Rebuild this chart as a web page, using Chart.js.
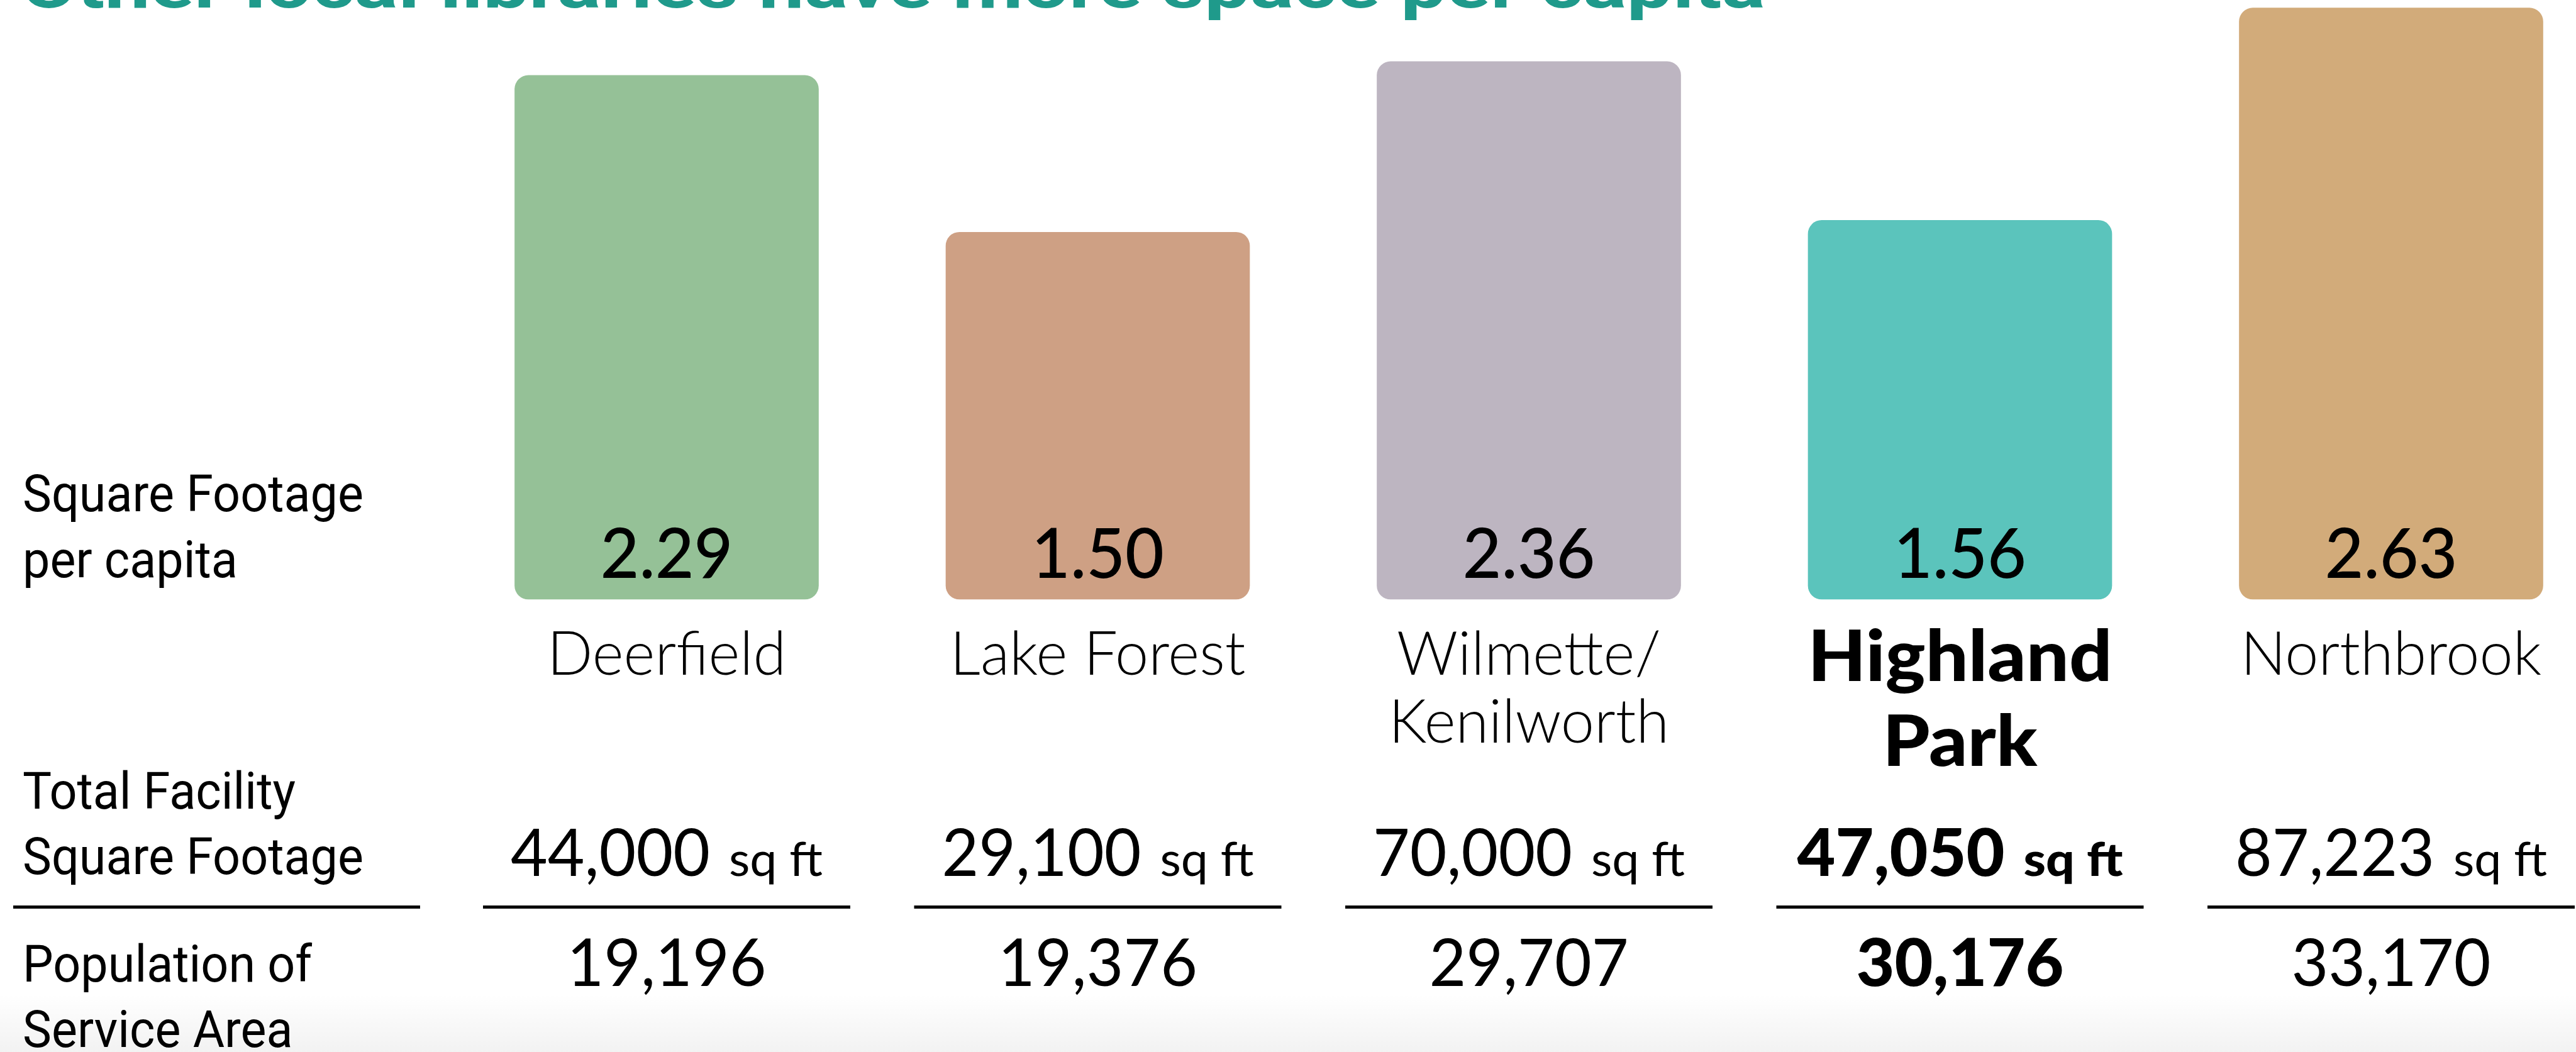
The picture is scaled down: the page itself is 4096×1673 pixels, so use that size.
<!DOCTYPE html>
<html>
<head>
<meta charset="utf-8">
<script src="https://cdn.jsdelivr.net/npm/chart.js@4.4.1/dist/chart.umd.min.js"></script>
<style>
  html, body { margin: 0; padding: 0; background: #fff; }
  #wrap { width: 4096px; height: 1673px; position: relative; }
</style>
</head>
<body>
<div id="wrap"><canvas id="librariesChart"></canvas></div>
<script>
// Data
const chartTitle = 'Other local libraries have more space per capita';
const libraryNames = [['Deerfield'], ['Lake Forest'], ['Wilmette/', 'Kenilworth'], ['Highland', 'Park'], ['Northbrook']];
const sqftPerCapita = [2.29, 1.50, 2.36, 1.56, 2.63];
const facilitySqft = [44000, 29100, 70000, 47050, 87223];
const servicePopulation = [19196, 19376, 29707, 30176, 33170];
const rowTitles = [['Square Footage', 'per capita'], ['Total Facility', 'Square Footage'], ['Population of', 'Service Area']];
const highlightIndex = 3;  // Highland Park

// value axis range (bars start at the bottom of the range, not at 0)
const yMin = -0.35;
const yMax = 2.67;

const barColors = ['#95c197', '#cea084', '#bdb5c1', '#5bc4bc', '#d2ab7a'];

const fonts = {
    title:    'bold 100px Roboto',
    row:      '82px Roboto',
    name:     '300 96px Lato',
    nameBold: '900 112px Lato',
    value:    '500 110px Lato',
    num:      '400 105px Lato',
    numBold:  '900 105px Lato',
    unit:     '400 75px Lato',
    unitBold: '900 75px Lato'
};
// sample text + width it should take, to squeeze fonts to the look of the original
const fontFit = {
    title:    [chartTitle, 2774],
    row:      ['Square Footage', 542],
    name:     ['Deerfield', 380],
    nameBold: ['Highland', 484],
    value:    ['2.29', 211],
    num:      ['44,000', 317],
    numBold:  ['47,050', 330],
    unit:     ['sq ft', 149],
    unitBold: ['sq ft', 158]
};

function textWidth(ctx, text, style, sx) {
    ctx.font = fonts[style];
    return ctx.measureText(text).width * sx[style];
}

function drawText(ctx, text, x, y, style, sx, align) {
    const w = textWidth(ctx, text, style, sx);
    let left = x;
    if (align === 'center') left = x - w / 2;
    if (align === 'right') left = x - w;
    ctx.save();
    ctx.font = fonts[style];
    ctx.textAlign = 'left';
    ctx.textBaseline = 'alphabetic';
    ctx.translate(left, y);
    ctx.scale(sx[style], 1);
    ctx.fillText(text, 0, 0);
    ctx.restore();
    return w;
}

const tablePlugin = {
    id: 'tablePlugin',
    beforeDraw(chart) {
        const { ctx, width, height } = chart;
        ctx.save();
        ctx.fillStyle = '#fff';
        ctx.fillRect(0, 0, width, height);
        // faint grey fade at the very bottom
        const g = ctx.createLinearGradient(0, 1580, 0, height);
        g.addColorStop(0, 'rgba(0,0,0,0)');
        g.addColorStop(1, 'rgba(0,0,0,0.05)');
        ctx.fillStyle = g;
        ctx.fillRect(0, 1580, width, height - 1580);
        ctx.restore();
    },
    afterDatasetsDraw(chart) {
        const ctx = chart.ctx;
        const xScale = chart.scales.x;
        const meta = chart.getDatasetMeta(0);

        const sx = {};
        Object.keys(fontFit).forEach(k => {
            ctx.font = fonts[k];
            sx[k] = fontFit[k][1] / ctx.measureText(fontFit[k][0]).width;
        });

        ctx.save();
        // --- Title (cut at the top like the original) ---
        ctx.fillStyle = '#1f9a8b';
        drawText(ctx, chartTitle, 33, 12, 'title', sx, 'left');

        // --- Row titles ---
        ctx.fillStyle = '#000';
        const rowBaselines = [[813, 918], [1286, 1390], [1561, 1665]];
        rowTitles.forEach((lines, r) => {
            lines.forEach((line, j) => drawText(ctx, line, 36, rowBaselines[r][j], 'row', sx, 'left'));
        });
        ctx.fillRect(21, 1440, 647, 5);

        // --- Columns ---
        libraryNames.forEach((lines, i) => {
            const cx = xScale.getPixelForValue(i);
            const bar = meta.data[i];
            const bold = i === highlightIndex;

            // value inside the bar
            drawText(ctx, sqftPerCapita[i].toFixed(2), cx, bar.base - 34, 'value', sx, 'center');

            // library name
            const y0 = bold ? 1083 : 1073;
            const lh = bold ? 135 : 108;
            lines.forEach((line, j) => drawText(ctx, line, cx, y0 + j * lh, bold ? 'nameBold' : 'name', sx, 'center'));

            // total square footage + "sq ft"
            const numStyle = bold ? 'numBold' : 'num';
            const unitStyle = bold ? 'unitBold' : 'unit';
            const numTxt = facilitySqft[i].toLocaleString('en-US');
            const gap = 30;
            const wNum = textWidth(ctx, numTxt, numStyle, sx);
            const wUnit = textWidth(ctx, 'sq ft', unitStyle, sx);
            const left = cx - (wNum + gap + wUnit) / 2;
            drawText(ctx, numTxt, left, 1393, numStyle, sx, 'left');
            drawText(ctx, 'sq ft', left + wNum + gap, 1393, unitStyle, sx, 'left');

            // separator
            ctx.fillRect(cx - 292, 1440, 584, 5);

            // population
            drawText(ctx, servicePopulation[i].toLocaleString('en-US'), cx, 1568, numStyle, sx, 'center');
        });
        ctx.restore();
    }
};

const ctxLib = document.getElementById('librariesChart').getContext('2d');
const librariesChart = new Chart(ctxLib, {
    type: 'bar',
    data: {
        labels: libraryNames,
        datasets: [{
            label: 'Square Footage per capita',
            data: sqftPerCapita,
            backgroundColor: barColors,
            borderWidth: 0,
            borderRadius: 22,
            borderSkipped: false,
            barThickness: 483,
            base: yMin,
            clip: false
        }]
    },
    options: {
        responsive: true,
        maintainAspectRatio: false,
        animation: false,
        devicePixelRatio: 1,
        layout: { padding: { left: 1060, right: 294, top: 0, bottom: 720 } },
        plugins: { legend: { display: false }, tooltip: { enabled: false } },
        scales: {
            x: { type: 'category', offset: false, display: false, grid: { display: false } },
            y: { min: yMin, max: yMax, display: false, grid: { display: false } }
        }
    },
    plugins: [tablePlugin]
});
</script>
</body>
</html>
